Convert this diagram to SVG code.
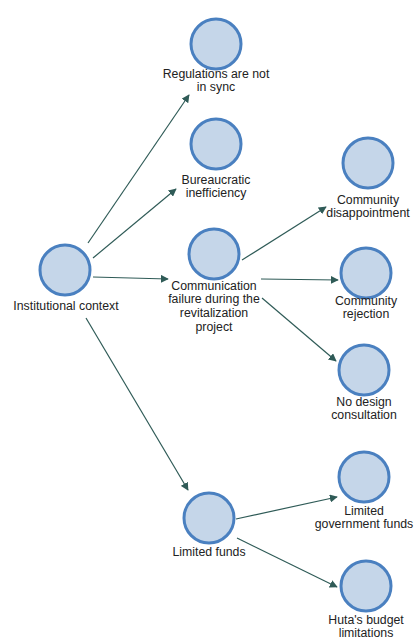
<svg xmlns="http://www.w3.org/2000/svg" width="414" height="640" viewBox="0 0 414 640">
<style>
.n{fill:#c5d6e9;stroke:#4a80c0;stroke-width:3}
.t{font-family:"Liberation Sans",Arial,sans-serif;font-size:12.3px;fill:#222;text-anchor:middle}
.e{stroke:#2f5b57;stroke-width:1.2;fill:none;marker-end:url(#a)}
</style>
<defs>
<marker id="a" viewBox="0 0 10 10" refX="9" refY="5" markerWidth="8" markerHeight="8" markerUnits="userSpaceOnUse" orient="auto">
<path d="M0,0 L10,5 L0,10 z" fill="#2f5b57"/>
</marker>
</defs>
<rect width="414" height="640" fill="#fff"/>
<g id="edges">
<path class="e" d="M88,243 L189,95"/>
<path class="e" d="M93,258 L176,189"/>
<path class="e" d="M93,277 L168,279"/>
<path class="e" d="M86,318 L188,490"/>
<path class="e" d="M242,260 L326,207"/>
<path class="e" d="M261,279 L338,280"/>
<path class="e" d="M262,298 L336,361"/>
<path class="e" d="M236,519 L337,497"/>
<path class="e" d="M237,538 L337,587"/>
</g>
<g id="institutional"><circle class="n" cx="65" cy="270" r="25"/><text class="t" x="66" y="310">Institutional context</text></g>
<g id="regulations"><circle class="n" cx="216" cy="44" r="25"/><text class="t" x="216" y="78">Regulations are not</text><text class="t" x="216" y="91">in sync</text></g>
<g id="bureaucratic"><circle class="n" cx="216" cy="144" r="25"/><text class="t" x="216" y="184">Bureaucratic</text><text class="t" x="216" y="197">inefficiency</text></g>
<g id="communication"><circle class="n" cx="214" cy="254" r="25"/><text class="t" x="214" y="290">Communication</text><text class="t" x="214" y="303">failure during the</text><text class="t" x="214" y="317">revitalization</text><text class="t" x="214" y="331">project</text></g>
<g id="disappointment"><circle class="n" cx="368" cy="163" r="25"/><text class="t" x="368" y="204">Community</text><text class="t" x="368" y="217">disappointment</text></g>
<g id="rejection"><circle class="n" cx="366" cy="273" r="25"/><text class="t" x="366" y="305">Community</text><text class="t" x="366" y="318">rejection</text></g>
<g id="nodesign"><circle class="n" cx="364" cy="370" r="25"/><text class="t" x="364" y="406">No design</text><text class="t" x="364" y="419">consultation</text></g>
<g id="limitedfunds"><circle class="n" cx="209" cy="518" r="25"/><text class="t" x="209" y="556">Limited funds</text></g>
<g id="govfunds"><circle class="n" cx="364" cy="477" r="25"/><text class="t" x="364" y="515">Limited</text><text class="t" x="364" y="528">government funds</text></g>
<g id="huta"><circle class="n" cx="366" cy="586" r="25"/><text class="t" x="366" y="624">Huta's budget</text><text class="t" x="366" y="637">limitations</text></g>
</svg>
